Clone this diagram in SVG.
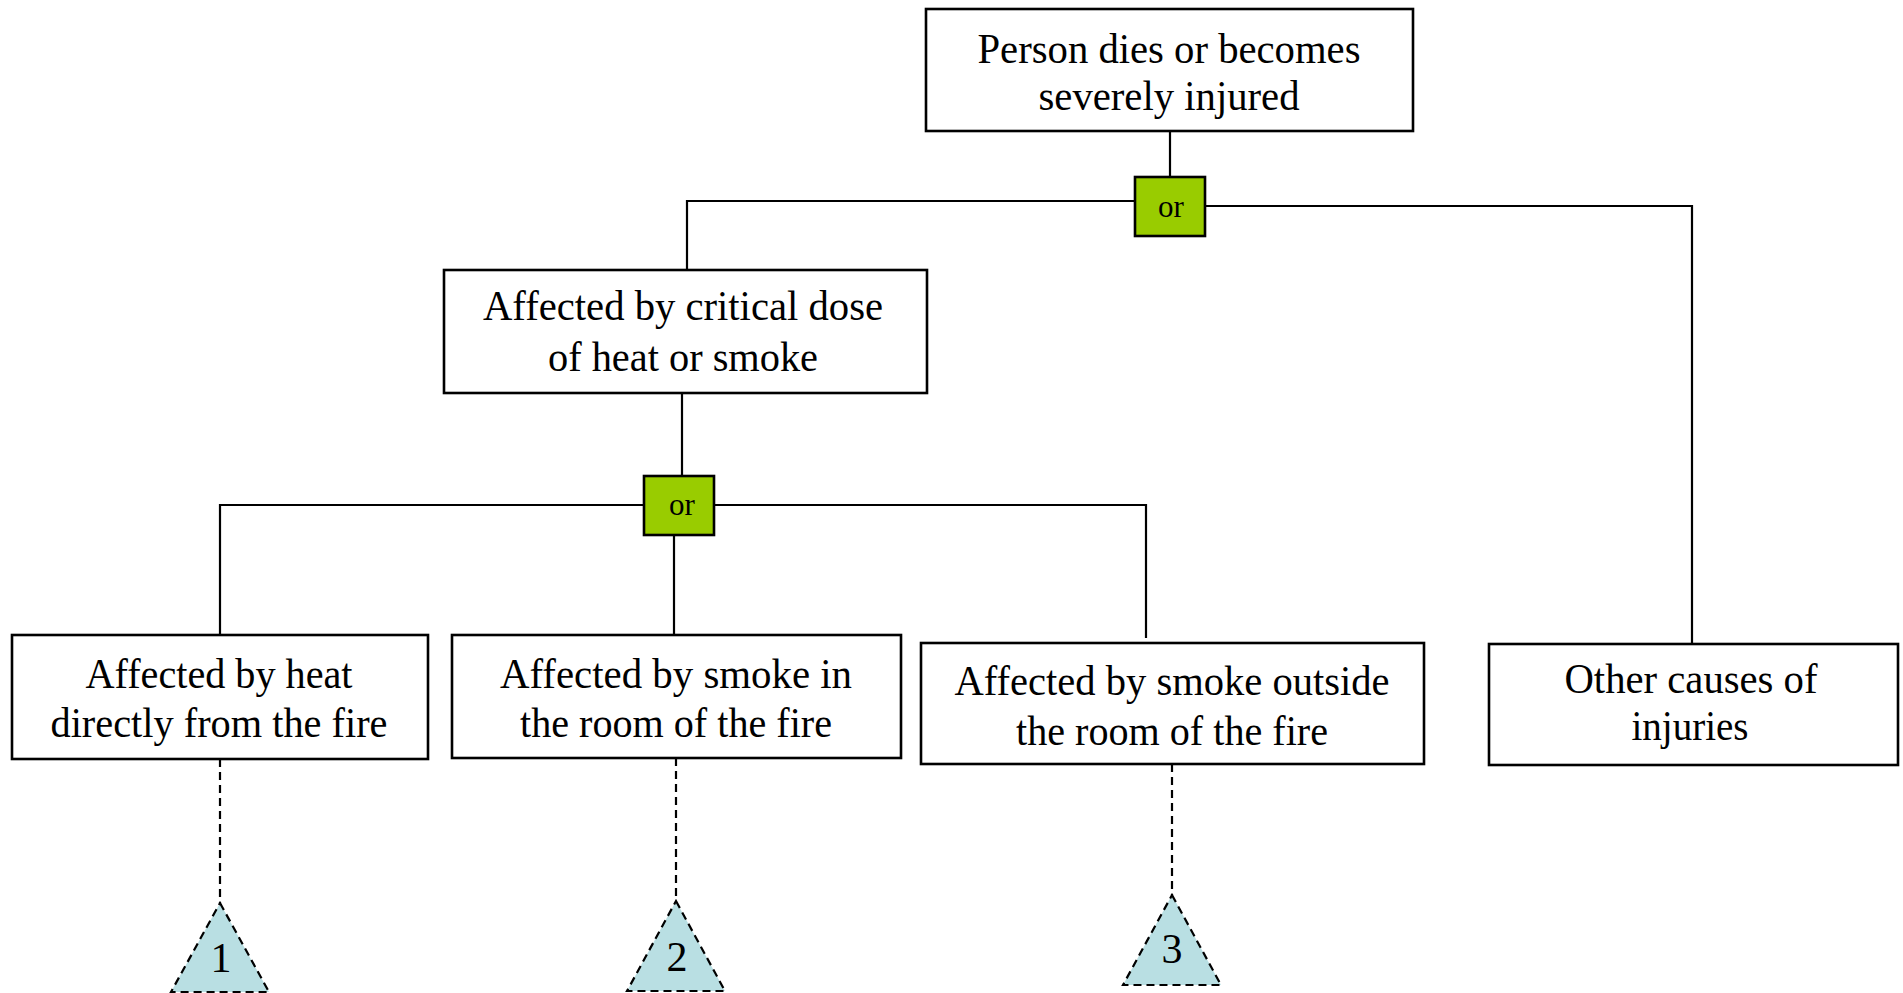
<svg xmlns="http://www.w3.org/2000/svg" width="1903" height="993" viewBox="0 0 1903 993">
<style>
.box{fill:#fff;stroke:#000;stroke-width:2.6}
.gate{fill:#99CC00;stroke:#000;stroke-width:2.6}
.t{font-family:"Liberation Serif","Times New Roman",serif;font-size:42px;fill:#000;text-anchor:middle}
.g{font-family:"Liberation Serif","Times New Roman",serif;font-size:31px;fill:#000;text-anchor:middle}
.c{fill:none;stroke:#000;stroke-width:2.2}
.d{fill:none;stroke:#000;stroke-width:2.2;stroke-dasharray:8 5}
.tri{fill:#B9DFE3;stroke:#000;stroke-width:2.2;stroke-dasharray:8 5}
</style>
<rect width="1903" height="993" fill="#fff"/>
<g id="connectors">
<line class="c" x1="1170" y1="131" x2="1170" y2="177"/>
<polyline class="c" points="1135,201 687,201 687,270"/>
<polyline class="c" points="1205,206 1692,206 1692,644"/>
<line class="c" x1="682" y1="393" x2="682" y2="476"/>
<polyline class="c" points="644,505 220,505 220,635"/>
<polyline class="c" points="714,505 1146,505 1146,638"/>
<line class="c" x1="674" y1="535" x2="674" y2="639"/>
<line class="d" x1="220" y1="759" x2="220" y2="903"/>
<line class="d" x1="676" y1="758" x2="676" y2="901"/>
<line class="d" x1="1172" y1="764" x2="1172" y2="895"/>
</g>
<g id="top">
<rect class="box" x="926" y="9" width="487" height="122"/>
<text class="t" x="1169" y="63" textLength="383" lengthAdjust="spacingAndGlyphs">Person dies or becomes</text>
<text class="t" x="1169" y="110" textLength="261" lengthAdjust="spacingAndGlyphs">severely injured</text>
</g>
<g id="gate1">
<rect class="gate" x="1135" y="177" width="70" height="59"/>
<text class="g" x="1171" y="217">or</text>
</g>
<g id="critical">
<rect class="box" x="444" y="270" width="483" height="123"/>
<text class="t" x="683" y="320" textLength="400" lengthAdjust="spacingAndGlyphs">Affected by critical dose</text>
<text class="t" x="683" y="371" textLength="270" lengthAdjust="spacingAndGlyphs">of heat or smoke</text>
</g>
<g id="gate2">
<rect class="gate" x="644" y="476" width="70" height="59"/>
<text class="g" x="682" y="515">or</text>
</g>
<g id="heat">
<rect class="box" x="12" y="635" width="416" height="124"/>
<text class="t" x="219" y="688" textLength="267" lengthAdjust="spacingAndGlyphs">Affected by heat</text>
<text class="t" x="219" y="737" textLength="337" lengthAdjust="spacingAndGlyphs">directly from the fire</text>
</g>
<g id="smoke-in">
<rect class="box" x="452" y="635" width="449" height="123"/>
<text class="t" x="676" y="688" textLength="352" lengthAdjust="spacingAndGlyphs">Affected by smoke in</text>
<text class="t" x="676" y="737" textLength="312" lengthAdjust="spacingAndGlyphs">the room of the fire</text>
</g>
<g id="smoke-out">
<rect class="box" x="921" y="643" width="503" height="121"/>
<text class="t" x="1172" y="695" textLength="435" lengthAdjust="spacingAndGlyphs">Affected by smoke outside</text>
<text class="t" x="1172" y="745" textLength="312" lengthAdjust="spacingAndGlyphs">the room of the fire</text>
</g>
<g id="other">
<rect class="box" x="1489" y="644" width="409" height="121"/>
<text class="t" x="1691" y="693" textLength="253" lengthAdjust="spacingAndGlyphs">Other causes of</text>
<text class="t" x="1690" y="740" textLength="117" lengthAdjust="spacingAndGlyphs">injuries</text>
</g>
<g id="tri1">
<polygon class="tri" points="220,903 269,992 171,992"/>
<text class="t" x="221" y="972">1</text>
</g>
<g id="tri2">
<polygon class="tri" points="676,901 725,991 627,991"/>
<text class="t" x="677" y="971">2</text>
</g>
<g id="tri3">
<polygon class="tri" points="1172,895 1221,985 1123,985"/>
<text class="t" x="1172" y="963">3</text>
</g>
</svg>
